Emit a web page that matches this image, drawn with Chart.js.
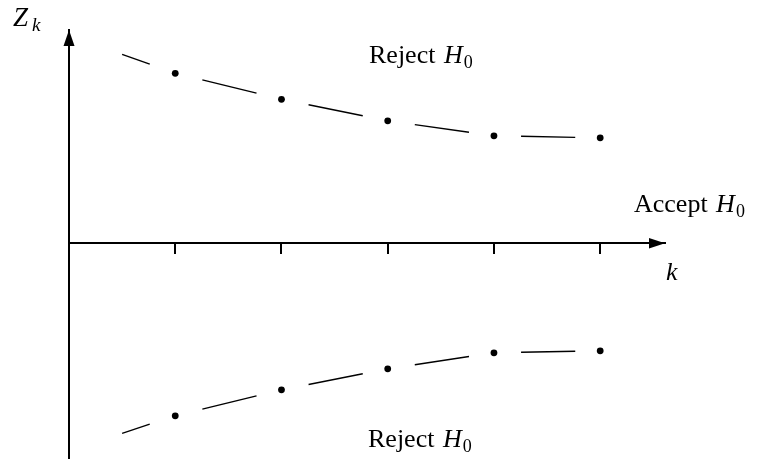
<!DOCTYPE html>
<html>
<head>
<meta charset="utf-8">
<script src="https://cdn.jsdelivr.net/npm/chart.js@4/dist/chart.umd.min.js"></script>
<style>
  html, body { margin: 0; padding: 0; background: #fff; }
  canvas { display: block; }
</style>
</head>
<body>
<canvas id="seqChart" width="760" height="459"></canvas>
<script>
// 境界の値 (k と Z_k)。先頭の k=0.5 は破線の書き始め。
const kValues = [0.5, 1, 2, 3, 4, 5];
const upperZ = [1.89, 1.70, 1.44, 1.225, 1.075, 1.055];
const lowerZ = [-1.90, -1.725, -1.465, -1.255, -1.095, -1.075];
const kTicks = [1, 2, 3, 4, 5];

let toPoints = function(zs) {
  return kValues.map((k, i) => ({x: k, y: zs[i]}));
};

// 点のまわりを空けた破線 (区間ごとに長さを合わせる)
let gapDash = function(ctx) {
  let L = Math.hypot(ctx.p1.x - ctx.p0.x, ctx.p1.y - ctx.p0.y);
  if (ctx.p0DataIndex === 0) { return [L * 0.52, L * 0.48]; }
  return [0, L * 0.255, L * 0.51, L * 0.235];
};

let makeSet = function(zs) {
  return {
    data: toPoints(zs),
    borderColor: '#000',
    backgroundColor: '#000',
    borderWidth: 1.4,
    tension: 0,
    pointRadius: c => (c.dataIndex === 0 ? 0 : 3.4),
    pointBorderWidth: 0,
    pointBackgroundColor: '#000',
    segment: { borderDash: gapDash }
  };
};

// 矢印と文字を描くプラグイン
let decorPlugin = {
  id: 'decor',
  afterDraw(chart) {
    let c = chart.ctx;
    let xs = chart.scales.x, ys = chart.scales.y;
    let x0 = xs.getPixelForValue(0);
    let y0 = ys.getPixelForValue(0);
    let area = chart.chartArea;
    c.save();
    c.fillStyle = '#000';
    // y 軸の矢印
    c.beginPath();
    c.moveTo(x0, area.top);
    c.lineTo(x0 - 5.5, area.top + 16);
    c.lineTo(x0 + 5.5, area.top + 16);
    c.closePath();
    c.fill();
    // x 軸の矢印
    c.beginPath();
    c.moveTo(area.right, y0);
    c.lineTo(area.right - 16, y0 - 5.3);
    c.lineTo(area.right - 16, y0 + 5.3);
    c.closePath();
    c.fill();

    let serif = '"Liberation Serif", "DejaVu Serif", serif';
    c.textBaseline = 'alphabetic';
    c.textAlign = 'left';
    let hyp = function(word, x, y) {
      c.font = '26px ' + serif;
      c.fillText(word, x, y);
      let w = c.measureText(word + ' ').width + 2;
      c.font = 'italic 26px ' + serif;
      c.fillText('H', x + w, y);
      let hw = c.measureText('H').width;
      c.font = '18px ' + serif;
      c.fillText('0', x + w + hw + 1, y + 5);
    };
    hyp('Reject', 369, 63);
    hyp('Accept', 634, 212);
    hyp('Reject', 368, 447);

    c.font = 'italic 27px ' + serif;
    c.fillText('Z', 13, 26);
    c.font = 'italic 19px ' + serif;
    c.fillText('k', 32, 31);
    c.font = 'italic 26px ' + serif;
    c.fillText('k', 666, 280);
    c.restore();
  }
};

let chart = new Chart(document.getElementById('seqChart'), {
  type: 'line',
  data: {
    datasets: [makeSet(upperZ), makeSet(lowerZ)]
  },
  options: {
    responsive: false,
    animation: false,
    events: [],
    layout: { autoPadding: false, padding: { left: 69, right: 95, top: 30, bottom: 0 } },
    plugins: { legend: { display: false }, tooltip: { enabled: false } },
    scales: {
      x: {
        type: 'linear',
        min: 0,
        max: 5.61,
        position: { y: 0 },
        afterBuildTicks: s => { s.ticks = kTicks.map(v => ({ value: v })); },
        afterFit: s => { s.height = 0; },
        ticks: { display: false },
        grid: { drawOnChartArea: false, drawTicks: true, tickLength: 10, color: '#000', lineWidth: 2 },
        border: { display: true, color: '#000', width: 2 }
      },
      y: {
        type: 'linear',
        min: -2.157,
        max: 2.133,
        position: { x: 0 },
        afterFit: s => { s.width = 0; },
        ticks: { display: false },
        grid: { display: false },
        border: { display: true, color: '#000', width: 2 }
      }
    }
  },
  plugins: [decorPlugin]
});
</script>
</body>
</html>
